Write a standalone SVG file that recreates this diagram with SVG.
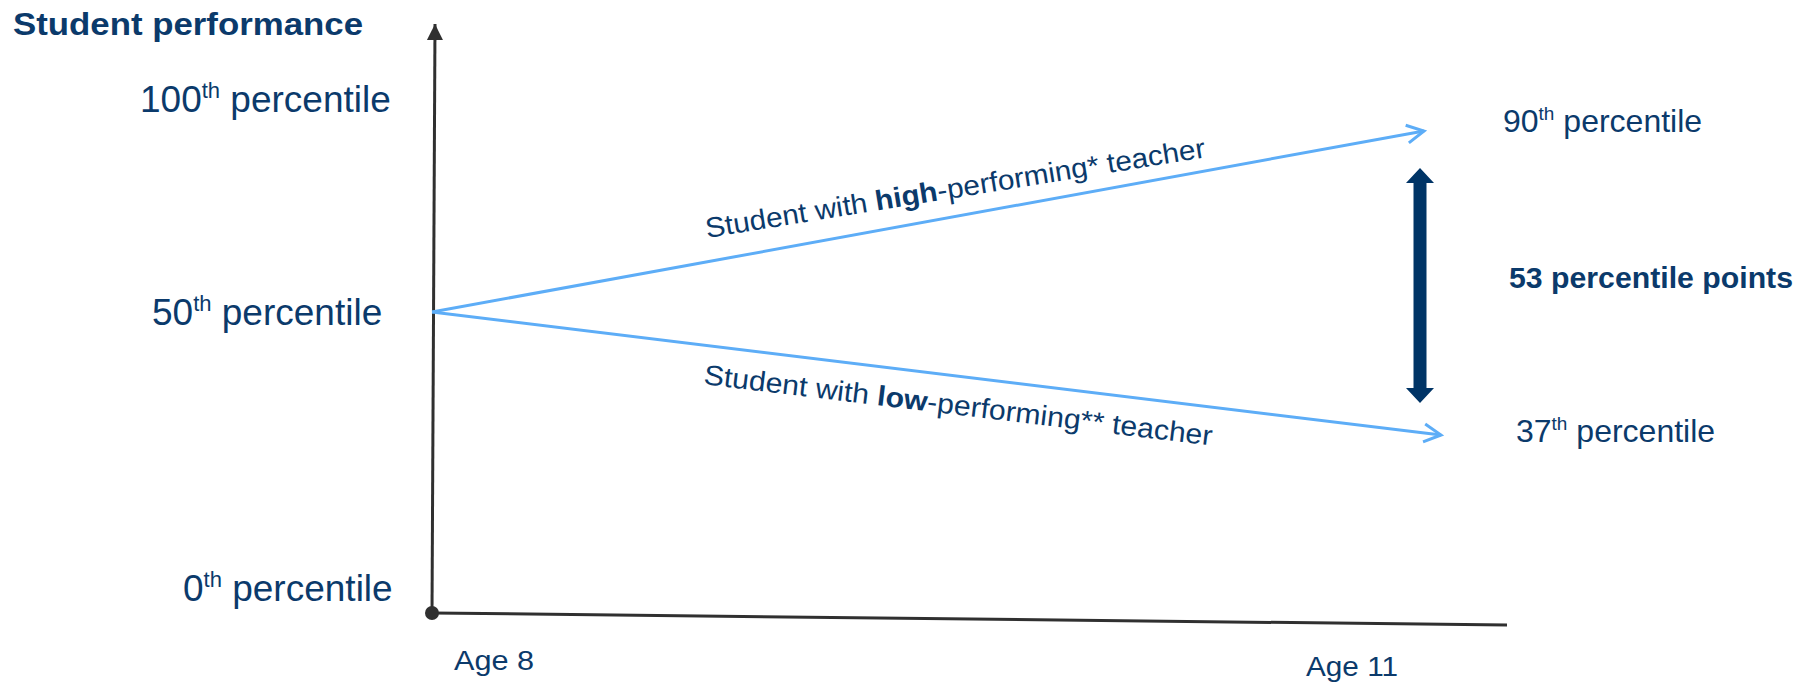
<svg xmlns="http://www.w3.org/2000/svg" width="1801" height="683" viewBox="0 0 1801 683">
<style>
text{font-family:"Liberation Sans",Arial,sans-serif;fill:#0b3a6b}
.lbl{font-size:37px}
.rlbl{font-size:32px}
.b{font-weight:bold}
.axis{stroke:#303030;stroke-width:3;fill:none}
.trend{stroke:#5dadf7;stroke-width:3;fill:none}
</style>
<defs>
<marker id="open" markerUnits="userSpaceOnUse" markerWidth="40" markerHeight="40" refX="0" refY="0" viewBox="-20 -20 40 40" orient="auto" overflow="visible">
<path d="M-17,-9 L0,0 L-17,9" fill="none" stroke="#5dadf7" stroke-width="3"/>
</marker>
<marker id="tri" markerUnits="userSpaceOnUse" markerWidth="20" markerHeight="20" refX="0" refY="0" viewBox="-18 -10 20 20" orient="auto" overflow="visible">
<path d="M-16,-8 L0,0 L-16,8 Z" fill="#303030"/>
</marker>
</defs>
<g id="title"><text class="b" x="13" y="35" font-size="32" textLength="350" lengthAdjust="spacingAndGlyphs">Student performance</text></g>
<g id="connectors">
<line class="axis" x1="432" y1="613" x2="435" y2="24" marker-end="url(#tri)"/>
<line class="axis" x1="432" y1="613" x2="1507" y2="625"/>
<circle cx="432" cy="613" r="7" fill="#303030"/>
<line class="trend" x1="432" y1="312" x2="1424" y2="131" marker-end="url(#open)"/>
<line class="trend" x1="432" y1="312" x2="1441" y2="435" marker-end="url(#open)"/>
<path id="gap-arrow" d="M1420,168 L1434,183 L1426.5,183 L1426.5,388 L1434,388 L1420,403 L1406,388 L1413.5,388 L1413.5,183 L1406,183 Z" fill="#003466"/>
</g>
<g id="y100"><text class="lbl" x="140" y="112">100<tspan font-size="22" dy="-14">th</tspan><tspan dy="14"> percentile</tspan></text></g>
<g id="y50"><text class="lbl" x="152" y="325">50<tspan font-size="22" dy="-14">th</tspan><tspan dy="14"> percentile</tspan></text></g>
<g id="y0"><text class="lbl" x="183" y="601">0<tspan font-size="22" dy="-14">th</tspan><tspan dy="14"> percentile</tspan></text></g>
<g id="p90"><text class="rlbl" x="1503" y="132">90<tspan font-size="19" dy="-12">th</tspan><tspan dy="12"> percentile</tspan></text></g>
<g id="p37"><text class="rlbl" x="1516" y="442">37<tspan font-size="19" dy="-12">th</tspan><tspan dy="12"> percentile</tspan></text></g>
<g id="gap"><text class="b" x="1509" y="288" font-size="30" textLength="284" lengthAdjust="spacingAndGlyphs">53 percentile points</text></g>
<g id="high-label"><text x="0" y="0" font-size="28" transform="translate(707,238) rotate(-9.2)" textLength="506" lengthAdjust="spacingAndGlyphs">Student with <tspan class="b">high</tspan>-performing* teacher</text></g>
<g id="low-label"><text x="0" y="0" font-size="28" transform="translate(703,384) rotate(6.9)" textLength="512" lengthAdjust="spacingAndGlyphs">Student with <tspan class="b">low</tspan>-performing** teacher</text></g>
<g id="age8"><text x="454" y="670" font-size="28" textLength="80" lengthAdjust="spacingAndGlyphs">Age 8</text></g>
<g id="age11"><text x="1306" y="676" font-size="28" textLength="92" lengthAdjust="spacingAndGlyphs">Age 11</text></g>
</svg>
